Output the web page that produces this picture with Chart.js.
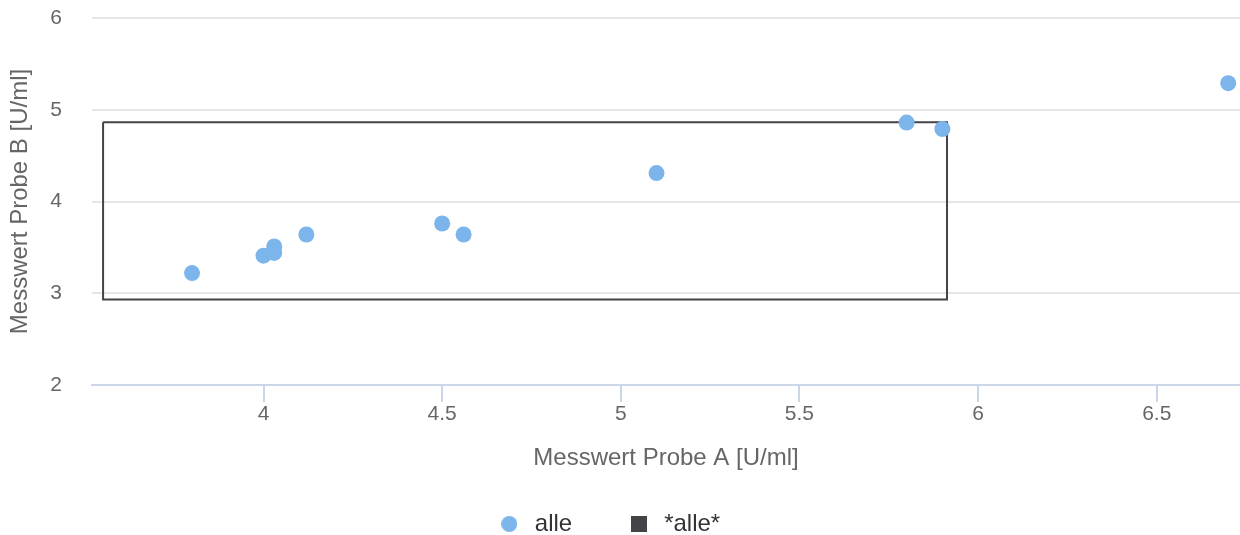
<!DOCTYPE html>
<html>
<head>
<meta charset="utf-8">
<title>Messwert Probe A vs B</title>
<script src="https://cdn.jsdelivr.net/npm/chart.js@4/dist/chart.umd.min.js"></script>
<style>
  html, body { margin: 0; padding: 0; background: #fff; overflow: hidden; }
  #wrap { width: 1240px; height: 535px; }
</style>
</head>
<body>
<div id="wrap"><canvas id="scatterChart"></canvas></div>
<script>
// measured values
const probeA = [3.80, 4.00, 4.03, 4.03, 4.12, 4.50, 4.56, 5.10, 5.80, 5.90, 6.70];
const probeB = [3.22, 3.41, 3.51, 3.44, 3.64, 3.76, 3.64, 4.31, 4.86, 4.79, 5.29];

// box corners (*alle*)
const boxX = [3.551, 5.913, 5.913, 3.551, 3.551];
const boxY = [4.864, 4.864, 2.933, 2.933, 4.864];

const xTicks = [4, 4.5, 5, 5.5, 6, 6.5];
const yTicks = [2, 3, 4, 5, 6];

const seriesNames = ['alle', '*alle*'];

Chart.defaults.font.family = '"Liberation Sans", Arial, sans-serif';

// little legend symbols
function legendMark(kind, color, size) {
  const c = document.createElement('canvas');
  c.width = size; c.height = size;
  const g = c.getContext('2d');
  g.fillStyle = color;
  if (kind === 'circle') {
    g.beginPath();
    g.arc(size / 2, size / 2, size / 2, 0, Math.PI * 2);
    g.fill();
  } else {
    g.fillRect(0, 0, size, size);
  }
  return c;
}
const legendMarks = [legendMark('circle', '#7cb5ec', 16), legendMark('rect', '#434348', 16)];

const config = {
  type: 'scatter',
  data: {
    datasets: [{
      label: seriesNames[0],
      data: probeA.map((x, i) => ({ x: x, y: probeB[i] })),
      backgroundColor: '#7cb5ec',
      borderWidth: 0,
      pointRadius: 8,
      pointHoverRadius: 8,
      clip: false,
      order: 0
    }, {
      label: seriesNames[1],
      data: boxX.map((x, i) => ({ x: x, y: boxY[i] })),
      showLine: true,
      fill: false,
      borderColor: '#434348',
      backgroundColor: '#434348',
      borderWidth: 2,
      pointRadius: 0,
      pointHoverRadius: 0,
      order: 1
    }]
  },
  options: {
    responsive: false,
    animation: false,
    layout: { autoPadding: false, padding: { top: 18, right: 0, bottom: -11, left: -24 } },
    scales: {
      x: {
        type: 'linear',
        min: 3.52,
        max: 6.733,
        afterBuildTicks: s => { s.ticks = xTicks.map(v => ({ value: v })); },
        afterFit: s => { s.height = 74; },
        ticks: {
          color: '#666666',
          font: { size: 21 },
          padding: 0,
          maxRotation: 0,
          callback: v => String(v)
        },
        grid: { drawOnChartArea: false, color: '#ccd6eb', lineWidth: 2, tickLength: 17 },
        border: { color: '#ccd6eb', width: 2 },
        title: {
          display: true,
          text: 'Messwert Probe A [U/ml]',
          color: '#666666',
          font: { size: 24 },
          padding: { top: 0, bottom: -13.4 }
        }
      },
      y: {
        type: 'linear',
        min: 2,
        max: 6,
        afterBuildTicks: s => { s.ticks = yTicks.map(v => ({ value: v })); },
        afterFit: s => { s.width = 116; },
        ticks: { color: '#666666', font: { size: 21 }, padding: 0 },
        grid: {
          drawTicks: true,
          tickLength: 30,
          tickColor: 'rgba(0,0,0,0)',
          lineWidth: 2,
          color: c => (c.tick && c.tick.value === 2) ? 'rgba(0,0,0,0)' : '#e6e6e6'
        },
        border: { display: false },
        title: {
          display: true,
          text: 'Messwert Probe B [U/ml]',
          color: '#666666',
          font: { size: 24 },
          padding: { top: 30, bottom: 0 }
        }
      }
    },
    plugins: {
      tooltip: { enabled: false },
      legend: {
        position: 'bottom',
        labels: {
          color: '#333333',
          font: { size: 24 },
          usePointStyle: true,
          pointStyleWidth: 27,
          boxHeight: 24,
          padding: 53,
          generateLabels(chart) {
            const items = Chart.defaults.plugins.legend.labels.generateLabels(chart);
            items.forEach(it => { it.pointStyle = legendMarks[it.datasetIndex]; });
            return items;
          }
        }
      }
    }
  }
};

const cv = document.getElementById('scatterChart');
cv.width = 1240;
cv.height = 535;
new Chart(cv, config);
</script>
</body>
</html>
